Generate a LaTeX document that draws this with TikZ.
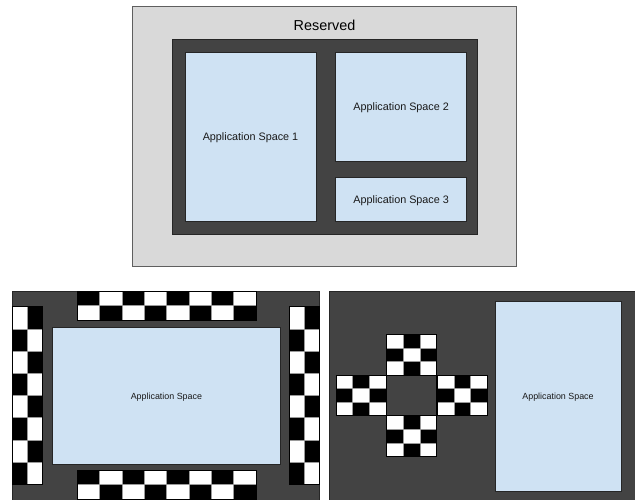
\documentclass[tikz,border=0pt]{standalone}
\usepackage{fontspec}
\setmainfont{Liberation Sans}

\definecolor{reservedgray}{HTML}{D9D9D9}
\definecolor{framegray}{HTML}{5F5F5F}
\definecolor{screendark}{HTML}{434343}
\definecolor{appblue}{HTML}{CFE2F3}
\definecolor{celledge}{HTML}{9A9A9A}

\tikzset{
  reserved/.style={fill=reservedgray, draw=framegray, line width=0.9pt},
  screen/.style={fill=screendark, draw=black!85, line width=0.8pt},
  appbox/.style={rectangle, fill=appblue, draw=black!85, line width=0.8pt,
                 inner sep=0pt, align=center, text=black!90, text depth=0pt},
  whitecell/.style={fill=white, draw=celledge, line width=0.5pt},
  stripedge/.style={draw=black, line width=0.8pt},
  bigtext/.style={font=\fontsize{14.4}{17}\selectfont},
  midtext/.style={font=\fontsize{10.8}{13}\selectfont},
  smalltext/.style={font=\fontsize{8.9}{11}\selectfont},
}

% chequer block: x, y (top-left), columns, rows, cell width, cell height, parity
\newcommand\chequerblock[7]{%
  \fill[black] (#1,#2) rectangle ++({#3*#5},{#4*#6});
  \foreach \ci in {1,...,#3}{%
    \foreach \ri in {1,...,#4}{%
      \pgfmathtruncatemacro\cellodd{mod(\ci+\ri+#7,2)}%
      \ifnum\cellodd=0
        \draw[whitecell] ({#1+(\ci-1)*#5},{#2+(\ri-1)*#6}) rectangle ++(#5,#6);
      \fi
    }%
  }%
  \draw[stripedge] (#1,#2) rectangle ++({#3*#5},{#4*#6});
}

\begin{document}
\begin{tikzpicture}[x=1pt,y=-1pt]
\useasboundingbox (0,0) rectangle (635,499);

% ---- reserved area with three application spaces ----
\draw[reserved] (132.5,6.5) rectangle (516,266.5);
\node[bigtext] (reservedlabel) at (324.5,25.5) {Reserved};
\draw[screen] (172.7,39.3) rectangle (477.3,234.3);
\node[appbox, midtext, minimum width=131pt, minimum height=169.4pt]
  (app1) at (250.5,137) {Application Space 1};
\node[appbox, midtext, minimum width=131pt, minimum height=109.4pt]
  (app2) at (401.2,107) {Application Space 2};
\node[appbox, midtext, minimum width=131pt, minimum height=44.4pt]
  (app3) at (401.2,199.5) {Application Space 3};

% ---- screen with chequered border strips ----
\draw[screen] (12.7,291) rectangle (319.3,505);
\node[appbox, smalltext, minimum width=228.2pt, minimum height=136.3pt]
  (appwide) at (166.4,395.85) {Application Space};
\chequerblock{77}{291}{8}{2}{22.375}{14.5}{1}
\chequerblock{77}{470}{8}{2}{22.375}{14.5}{1}
\chequerblock{12.7}{306.7}{2}{8}{14.8}{22.2}{0}
\chequerblock{289.3}{306.7}{2}{8}{14.8}{22.2}{0}

% ---- screen with chequered cross ----
\draw[screen] (329,291) rectangle (640,505);
\chequerblock{386.7}{334.3}{3}{3}{16.67}{13.57}{0}
\chequerblock{336}{375}{3}{3}{16.67}{13.57}{0}
\chequerblock{437.3}{375}{3}{3}{16.67}{13.57}{0}
\chequerblock{386.7}{415.7}{3}{3}{16.67}{13.57}{0}
\draw[stripedge, line width=0.6pt] (386.7,375) rectangle (436.7,415.7);
\node[appbox, smalltext, minimum width=126pt, minimum height=189.3pt]
  (apptall) at (558,396.35) {Application Space};
\end{tikzpicture}
\end{document}
